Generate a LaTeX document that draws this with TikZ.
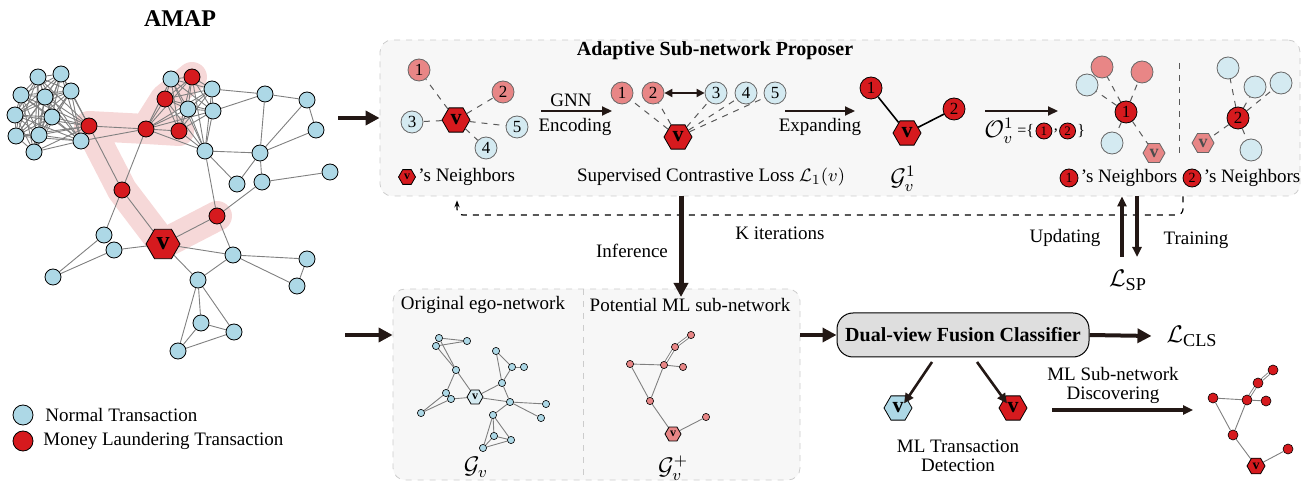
\documentclass[tikz,border=0pt]{standalone}
\usepackage{amsmath}
\usepackage{fontspec}
\setmainfont{Liberation Serif}
\usetikzlibrary{arrows.meta,positioning,shapes.geometric,fit}

\definecolor{nblue}{RGB}{173,216,230}
\definecolor{mlred}{RGB}{214,26,30}
\definecolor{pblue}{RGB}{212,234,241}
\definecolor{pred}{RGB}{232,134,134}
\definecolor{hlpink}{RGB}{246,216,216}
\definecolor{inkdark}{RGB}{35,24,21}
\definecolor{panelgray}{RGB}{247,247,247}
\definecolor{clsgray}{RGB}{222,222,222}

\pgfdeclarelayer{panel}
\pgfdeclarelayer{hl}
\pgfdeclarelayer{edge}
\pgfsetlayers{panel,hl,edge,main}

% small red numbered disc used inside text
\newcommand{\mlnum}[1]{\tikz[baseline=-0.75ex]\node[circle,draw=black,line width=0.4pt,
  fill=mlred,inner sep=0pt,minimum size=8pt,font=\fontsize{6.5}{7}\selectfont]{#1};}

\begin{document}
\begin{tikzpicture}[x=0.5pt, y=-0.5pt, font=\fontsize{9.5}{11}\selectfont,
  nrm/.style={circle, draw=black, line width=0.4pt, fill=nblue, minimum size=8pt, inner sep=0pt},
  ml/.style={nrm, fill=mlred},
  hexv/.style={regular polygon, regular polygon sides=6, draw=black, line width=0.4pt,
    fill=mlred, inner sep=0pt, minimum size=#1, font=\bfseries},
  cand/.style={circle, draw=gray!80!black, line width=0.4pt, fill=pblue, minimum size=11pt,
    inner sep=0pt, font=\fontsize{8.5}{9}\selectfont},
  candml/.style={cand, fill=pred},
  seed/.style={cand, draw=black, fill=mlred},
  dot/.style={circle, draw=black, line width=0.3pt, fill=nblue, minimum size=3.6pt, inner sep=0pt},
  mldot/.style={dot, fill=pred},
  lnk/.style={draw=black!50, line width=0.45pt},
  nbr/.style={dashed, draw=gray!70!black, line width=0.5pt},
  fat/.style={-{Triangle[length=7pt,width=7pt]}, line width=2pt, draw=inkdark},
  arr/.style={-{Triangle[length=5pt,width=4.5pt]}, line width=1pt, draw=inkdark},
  panelbox/.style={draw=gray!40, dashed, rounded corners=6pt, fill=panelgray, inner sep=0pt},
  big/.style={font=\fontsize{12}{14}\selectfont, inner sep=1pt}
]
\useasboundingbox (0,0) rectangle (1309,485);

\node[font=\fontsize{12}{14}\selectfont\bfseries] (title) at (180,19) {AMAP};

%% transaction network
\foreach \n/\x/\y in {1/38/77, 2/61/74, 3/21/95, 4/45/97, 5/71/91, 6/15/115,
    7/52/117, 8/16/136, 9/39/135, 10/34/152, 11/81/141}
  \node[nrm] (l\n) at (\x,\y) {};
\node[ml] (l12) at (89,126) {};
\foreach \n/\x/\y/\s in {1/171/79/nrm, 2/192/77/ml, 3/165/99/ml, 4/212/89/nrm, 5/188/109/nrm,
    6/213/111/nrm, 7/179/131/ml, 8/146/129/ml, 9/205/151/nrm}
  \node[\s] (u\n) at (\x,\y) {};
\node[ml] (r1) at (122,190) {};
\node[ml] (r2) at (217,216) {};
\node[hexv=17pt, font=\bfseries\fontsize{13}{13}\selectfont] (v) at (163,244) {v};
\foreach \n/\x/\y in {1/265/94, 2/307/100, 3/316/130, 4/260/153, 5/237/184, 6/262/182,
    7/330/172, 8/104/235, 9/114/250, 10/53/277, 11/233/255, 12/307/259, 13/297/286,
    14/198/280, 15/201/323, 16/234/332, 17/178/351}
  \node[nrm] (b\n) at (\x,\y) {};

\begin{pgfonlayer}{hl}
  \draw[hlpink, line width=15pt, line cap=round, line join=round]
    (l12.center) -- (u8.center) -- (u7.center)
    (u8.center) -- (u3.center) -- (u2.center)
    (l12.center) -- (r1.center) -- (v.center) -- (r2.center);
\end{pgfonlayer}

\begin{pgfonlayer}{edge}
  \foreach \i in {1,...,11}{
    \pgfmathtruncatemacro{\nxt}{\i+1}
    \foreach \j in {\nxt,...,12} \draw[lnk] (l\i) -- (l\j);
  }
  \foreach \i in {1,...,6}{
    \pgfmathtruncatemacro{\nxt}{\i+1}
    \foreach \j in {\nxt,...,7} \draw[lnk] (u\i) -- (u\j);
  }
  \foreach \j in {1,...,7} \draw[lnk] (u8) -- (u\j) (u9) -- (u\j);
  \foreach \a/\b in {u8/u9, l12/u8, l11/u8, l12/r1, u8/r1, r1/v, r1/b8, b8/b10, b9/b10,
      b9/v, v/r2, v/b11, v/b14, r2/u9, r2/b11, r2/b6, u9/b4, u9/b5, u4/b1, u6/b1,
      b1/b2, b1/b4, b2/b3, b2/b4, b3/b4, b4/b5, b4/b6, b6/b7, b11/b12, b11/b13,
      b12/b13, b11/b14, b14/b15, b14/b16, b14/b17, b15/b16, b15/b17, b16/b17}
    \draw[lnk] (\a) -- (\b);
\end{pgfonlayer}

%% legend
\node[nrm, minimum size=10pt] (lgnrm) at (23,415) {};
\node[right=2.5pt of lgnrm] (lgnrmtxt) {Normal Transaction};
\node[ml, minimum size=10pt] (lgml) at (23,441) {};
\node[right=1.5pt of lgml] (lgmltxt) {Money Laundering Transaction};

%% adaptive sub-network proposer
\begin{pgfonlayer}{panel}
  \node[panelbox, fit={(380,40) (1300,196)}] (asp) {};
\end{pgfonlayer}
\node[font=\bfseries] (asptitle) at (715,51) {Adaptive Sub-network Proposer};
\coordinate (asp-in) at (338,118);
\draw[fat] (asp-in) -- (asp-in -| asp.west);

% v and its neighbours
\node[candml] (a1) at (419,70) {1};
\node[candml] (a2) at (503,92) {2};
\node[cand] (a3) at (412,122) {3};
\node[cand] (a4) at (486,148) {4};
\node[cand] (a5) at (517,127) {5};
\node[hexv=14pt, font=\bfseries\fontsize{11}{11}\selectfont] (av) at (456,120) {v};
\foreach \n in {1,...,5} \draw[nbr] (av) -- (a\n);
\node[hexv=8.5pt, font=\bfseries\fontsize{6}{6}\selectfont] (avmark) at (407,177) {v};
\node[right=0pt of avmark, inner sep=1pt] (avtxt) {'s Neighbors};

\coordinate (gnn-a) at (541,111);
\coordinate (gnn-b) at (612,111);
\draw[arr] (gnn-a) -- (gnn-b);
\node (gnntxt) at (571,100) {GNN};
\node (enctxt) at (575,127) {Encoding};

% contrastive step
\node[candml] (c1) at (622,93) {1};
\node[candml] (c2) at (653,93) {2};
\node[cand] (c3) at (716,93) {3};
\node[cand] (c4) at (746,93) {4};
\node[cand] (c5) at (775,93) {5};
\node[hexv=14pt, font=\bfseries\fontsize{11}{11}\selectfont] (cv) at (678,137) {v};
\foreach \n in {1,...,5} \draw[nbr] (cv) -- (c\n);
\draw[{Triangle[length=4pt,width=4pt]}-{Triangle[length=4pt,width=4pt]}, line width=1pt, draw=inkdark]
  (c2) -- (c3);
\node (scltxt) at (711,177) {Supervised Contrastive Loss $\mathcal{L}_1(v)$};

\coordinate (exp-a) at (785,111);
\coordinate (exp-b) at (855,111);
\draw[arr] (exp-a) -- (exp-b);
\node (exptxt) at (820,127) {Expanding};

% first-order sub-network
\node[seed] (g1) at (871,88) {1};
\node[seed] (g2) at (954,109) {2};
\node[hexv=14pt, font=\bfseries\fontsize{11}{11}\selectfont] (gv) at (907,133) {v};
\draw[line width=0.8pt] (gv) -- (g1) (gv) -- (g2);
\node[big] (gvtxt) at (903,179) {$\mathcal{G}_v^1$};

\coordinate (sel-a) at (985,111);
\coordinate (sel-b) at (1058,111);
\draw[arr] (sel-a) -- (sel-b);
\node[big] (selO) at (999,131) {$\mathcal{O}_v^1$};
\node[right=0pt of selO, inner sep=0.5pt, font=\fontsize{8}{9}\selectfont] (seleq) {=\{};
\node[seed, minimum size=8pt, font=\fontsize{6.5}{7}\selectfont, right=0pt of seleq] (sel1) {1};
\node[right=0pt of sel1, inner sep=0.5pt, font=\fontsize{8}{9}\selectfont] (selcm) {,};
\node[seed, minimum size=8pt, font=\fontsize{6.5}{7}\selectfont, right=0pt of selcm] (sel2) {2};
\node[right=0pt of sel2, inner sep=0.5pt, font=\fontsize{8}{9}\selectfont] (selbr) {\}};

% neighbours of 1
\node[candml] (k1) at (1102,67) {};
\node[candml] (k2) at (1142,72) {};
\node[cand] (k3) at (1087,85) {};
\node[cand] (k4) at (1112,143) {};
\node[seed] (k0) at (1126,112) {1};
\node[hexv=11pt, fill=pred, draw=gray!80!black, font=\bfseries\fontsize{9}{9}\selectfont,
  text=black!70] (kv) at (1154,153) {v};
\foreach \n in {1,...,4} \draw[nbr] (k0) -- (k\n);
\draw[nbr] (k0) -- (kv);
\coordinate (sep-a) at (1179,63);
\coordinate (sep-b) at (1179,158);
\draw[nbr] (sep-a) -- (sep-b);

% neighbours of 2
\node[cand] (m1) at (1228,68) {};
\node[cand] (m2) at (1255,87) {};
\node[cand] (m3) at (1281,83) {};
\node[cand] (m4) at (1251,150) {};
\node[seed] (m0) at (1238,118) {2};
\node[hexv=11pt, fill=pred, draw=gray!80!black, font=\bfseries\fontsize{9}{9}\selectfont,
  text=black!70] (mv) at (1203,143) {v};
\foreach \n in {1,...,4} \draw[nbr] (m0) -- (m\n);
\draw[nbr] (m0) -- (mv);

\node[seed, minimum size=9pt, font=\fontsize{7}{7}\selectfont] (k0mark) at (1069,178) {1};
\node[right=0pt of k0mark, inner sep=1pt] (k0txt) {'s Neighbors};
\node[seed, minimum size=9pt, font=\fontsize{7}{7}\selectfont] (m0mark) at (1192,178) {2};
\node[right=0pt of m0mark, inner sep=1pt] (m0txt) {'s Neighbors};

% iterations loop
\coordinate (kr) at (1183,215);
\coordinate (kl) at (457,215);
\draw[dashed, line width=0.6pt, rounded corners=3pt, -{Stealth[length=3.5pt]}]
  (kr |- asp.south) -- (kr) -- (kl) -- ([yshift=-2pt]kl |- asp.south);
\node (ktxt) at (780,233) {K iterations};

\coordinate (inf) at (681,297);
\draw[fat, line width=2.5pt] (inf |- asp.south) -- (inf);
\node (inftxt) at (632,251) {Inference};

\coordinate (upd) at (1122,257);
\coordinate (trn) at (1137,257);
\draw[arr, line width=1.6pt] (upd) -- (upd |- asp.south);
\draw[arr, line width=1.6pt] (trn |- asp.south) -- (trn);
\node (updtxt) at (1065,238) {Updating};
\node (trntxt) at (1196,240) {Training};
\node[font=\fontsize{13}{15}\selectfont, inner sep=1pt] (lsp) at (1128,280) {$\mathcal{L}_{\mathrm{SP}}$};

%% ego-network and potential sub-network
\begin{pgfonlayer}{panel}
  \node[panelbox, fit={(393,289) (800,480)}] (ego) {};
\end{pgfonlayer}
\coordinate (div-a) at (583,289);
\coordinate (div-b) at (583,480);
\draw[dashed, draw=gray!40] (div-a) -- (div-b);
\node (egotxt) at (483,305) {Original ego-network};
\node (pottxt) at (690,305) {Potential ML sub-network};
\node[big] (egog) at (476,467) {$\mathcal{G}_v$};
\node[big] (potg) at (673,468) {$\mathcal{G}_v^+$};
\coordinate (ego-in) at (345,335);
\draw[fat] (ego-in) -- (ego-in -| ego.west);

\foreach \n/\x/\y in {1/439/338, 2/436/346, 3/467/341, 4/456/370, 5/496/351, 6/512/367,
    7/524/367, 8/502/383, 9/446/393, 10/451/399, 11/421/413, 12/510/402, 13/546/404,
    14/541/418, 15/493/415, 16/494/436, 17/511/440, 18/483/448}
  \node[dot] (e\n) at (\x,\y) {};
\node[hexv=8pt, fill=pblue, font=\bfseries\fontsize{6}{6}\selectfont] (ev) at (475,397) {v};
\begin{pgfonlayer}{edge}
  \foreach \a/\b in {e1/e2, e1/e3, e2/e3, e1/e4, e2/e4, e4/e9, e4/ev, e9/e11, e10/e11,
      e9/e10, e10/ev, ev/e8, ev/e12, e8/e5, e5/e6, e8/e6, e6/e7, e8/e12, e12/e13,
      e12/e14, e12/e15, e15/e16, e15/e17, e15/e18, e16/e17, e16/e18, e17/e18}
    \draw[lnk] (\a) -- (\b);
\end{pgfonlayer}

\foreach \n/\x/\y in {1/691/335, 2/675/347, 3/630/364, 4/664/365, 5/683/367, 6/650/401,
    7/706/417}
  \node[mldot] (p\n) at (\x,\y) {};
\node[hexv=8pt, fill=pred, font=\bfseries\fontsize{6}{6}\selectfont] (pv) at (673,434) {v};
\begin{pgfonlayer}{edge}
  \foreach \a/\b in {p3/p4, p4/p5, p3/p6, p4/p6, p6/pv, pv/p7}
    \draw[lnk] (\a) -- (\b);
  \draw[lnk, double=white, double distance=0.6pt] (p4) -- (p2) -- (p1);
\end{pgfonlayer}

%% classifier
\node[draw=black, line width=0.5pt, fill=clsgray, rounded corners=8pt, minimum width=126pt,
  minimum height=22pt, font=\bfseries\fontsize{10}{12}\selectfont] (dvfc) at (963,335)
  {Dual-view Fusion Classifier};
\draw[fat] (dvfc.west -| ego.east) -- (dvfc.west);
\node[font=\fontsize{13}{15}\selectfont] (lcls) at (1192,336) {$\mathcal{L}_{\mathrm{CLS}}$};
\draw[fat] (dvfc.east) -- ([xshift=-4pt]lcls.west);

\node[hexv=14pt, fill=nblue, font=\bfseries\fontsize{11}{11}\selectfont] (hn) at (898,408) {v};
\node[hexv=14pt, font=\bfseries\fontsize{11}{11}\selectfont] (hm) at (1013,408) {v};
\coordinate (cl-a) at (932,362);
\coordinate (cl-b) at (977,362);
\draw[arr, line width=1.3pt] (cl-a) -- ([shift={(3pt,-4pt)}]hn.north);
\draw[arr, line width=1.3pt] (cl-b) -- ([shift={(-3pt,-4pt)}]hm.north);
\node[align=center, font=\fontsize{9.5}{9.5}\selectfont] (dettxt) at (958,456)
  {ML Transaction\\Detection};

\node[align=center, font=\fontsize{9.5}{9.5}\selectfont] (disctxt) at (1113,385)
  {ML Sub-network\\Discovering};
\coordinate (disc-a) at (1052,410);
\coordinate (disc-b) at (1193,410);
\draw[arr, line width=1.6pt] (disc-a) -- (disc-b);

\foreach \n/\x/\y in {1/1273/370, 2/1258/383, 3/1213/398, 4/1247/400, 5/1266/401,
    6/1233/435, 7/1288/449}
  \node[dot, fill=mlred, minimum size=5pt] (f\n) at (\x,\y) {};
\node[hexv=9pt, font=\bfseries\fontsize{7}{7}\selectfont] (fv) at (1256,466) {v};
\begin{pgfonlayer}{edge}
  \foreach \a/\b in {f3/f4, f4/f5, f3/f6, f4/f6, f6/fv, fv/f7}
    \draw[lnk] (\a) -- (\b);
  \draw[lnk, double=white, double distance=0.6pt] (f4) -- (f2) -- (f1);
\end{pgfonlayer}
\end{tikzpicture}
\end{document}
